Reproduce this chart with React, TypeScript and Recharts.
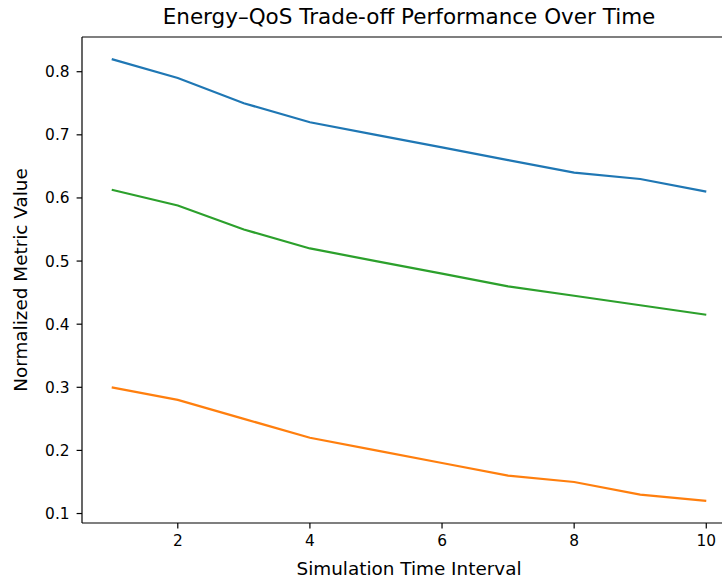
import { LineChart, Line, XAxis, YAxis, ReferenceLine } from "recharts";

const intervals = [1, 2, 3, 4, 5, 6, 7, 8, 9, 10];
const blueSeries = [0.82, 0.79, 0.75, 0.72, 0.7, 0.68, 0.66, 0.64, 0.63, 0.61];
const orangeSeries = [0.3, 0.28, 0.25, 0.22, 0.2, 0.18, 0.16, 0.15, 0.13, 0.12];
const greenSeries = [0.613, 0.588, 0.55, 0.52, 0.5, 0.48, 0.46, 0.445, 0.43, 0.415];
const xTicks = [2, 4, 6, 8, 10];
const yTicks = [0.1, 0.2, 0.3, 0.4, 0.5, 0.6, 0.7, 0.8];

const data = intervals.map((t, i) => ({
  t,
  blue: blueSeries[i],
  orange: orangeSeries[i],
  green: greenSeries[i],
}));

const font = "'DejaVu Sans', sans-serif";
const tickStyle = { fontSize: 15.4, fill: "#000", fontFamily: font };

const XTitle = () => (
  <text x={409} y={568} textAnchor="middle" dominantBaseline="central" fontSize={18.4} fill="#000" fontFamily={font}>
    Simulation Time Interval
  </text>
);

const YTitle = () => (
  <text
    x={20}
    y={280}
    transform="rotate(-90 20 280)"
    textAnchor="middle"
    dominantBaseline="central"
    fontSize={18.4}
    fill="#000"
    fontFamily={font}
  >
    Normalized Metric Value
  </text>
);

const App = () => {
  return (
    <div
      style={{
        position: "fixed",
        top: 0,
        left: 0,
        width: 722,
        height: 580,
        overflow: "hidden",
        background: "#fff",
        fontFamily: font,
      }}
    >
      <div
        style={{
          position: "absolute",
          top: 4,
          left: 0,
          width: 818,
          lineHeight: "26px",
          textAlign: "center",
          fontSize: 21.5,
          color: "#000",
          fontFamily: font,
        }}
      >
        Energy–QoS Trade-off Performance Over Time
      </div>
      {/* plot box runs past the right edge, like the cropped original */}
      <LineChart width={722} height={580} data={data} margin={{ top: 37, right: -14, bottom: 0, left: 0 }}>
        <XAxis
          dataKey="t"
          type="number"
          domain={[0.55, 10.45]}
          ticks={xTicks}
          allowDataOverflow
          height={57}
          tick={tickStyle}
          tickSize={5.4}
          tickMargin={7}
          stroke="#000"
          strokeWidth={1.2}
          label={<XTitle />}
        />
        <YAxis
          type="number"
          domain={[0.085, 0.855]}
          ticks={yTicks}
          allowDataOverflow
          width={82}
          tick={tickStyle}
          tickSize={5.4}
          tickMargin={7}
          tickFormatter={(v: number) => v.toFixed(1)}
          stroke="#000"
          strokeWidth={1.2}
          label={<YTitle />}
        />
        <ReferenceLine y={0.855} stroke="#000" strokeWidth={1.2} />
        <Line type="linear" dataKey="blue" stroke="#1f77b4" strokeWidth={2.2} dot={false} isAnimationActive={false} />
        <Line type="linear" dataKey="orange" stroke="#ff7f0e" strokeWidth={2.2} dot={false} isAnimationActive={false} />
        <Line type="linear" dataKey="green" stroke="#2ca02c" strokeWidth={2.2} dot={false} isAnimationActive={false} />
      </LineChart>
    </div>
  );
};

export default App;
